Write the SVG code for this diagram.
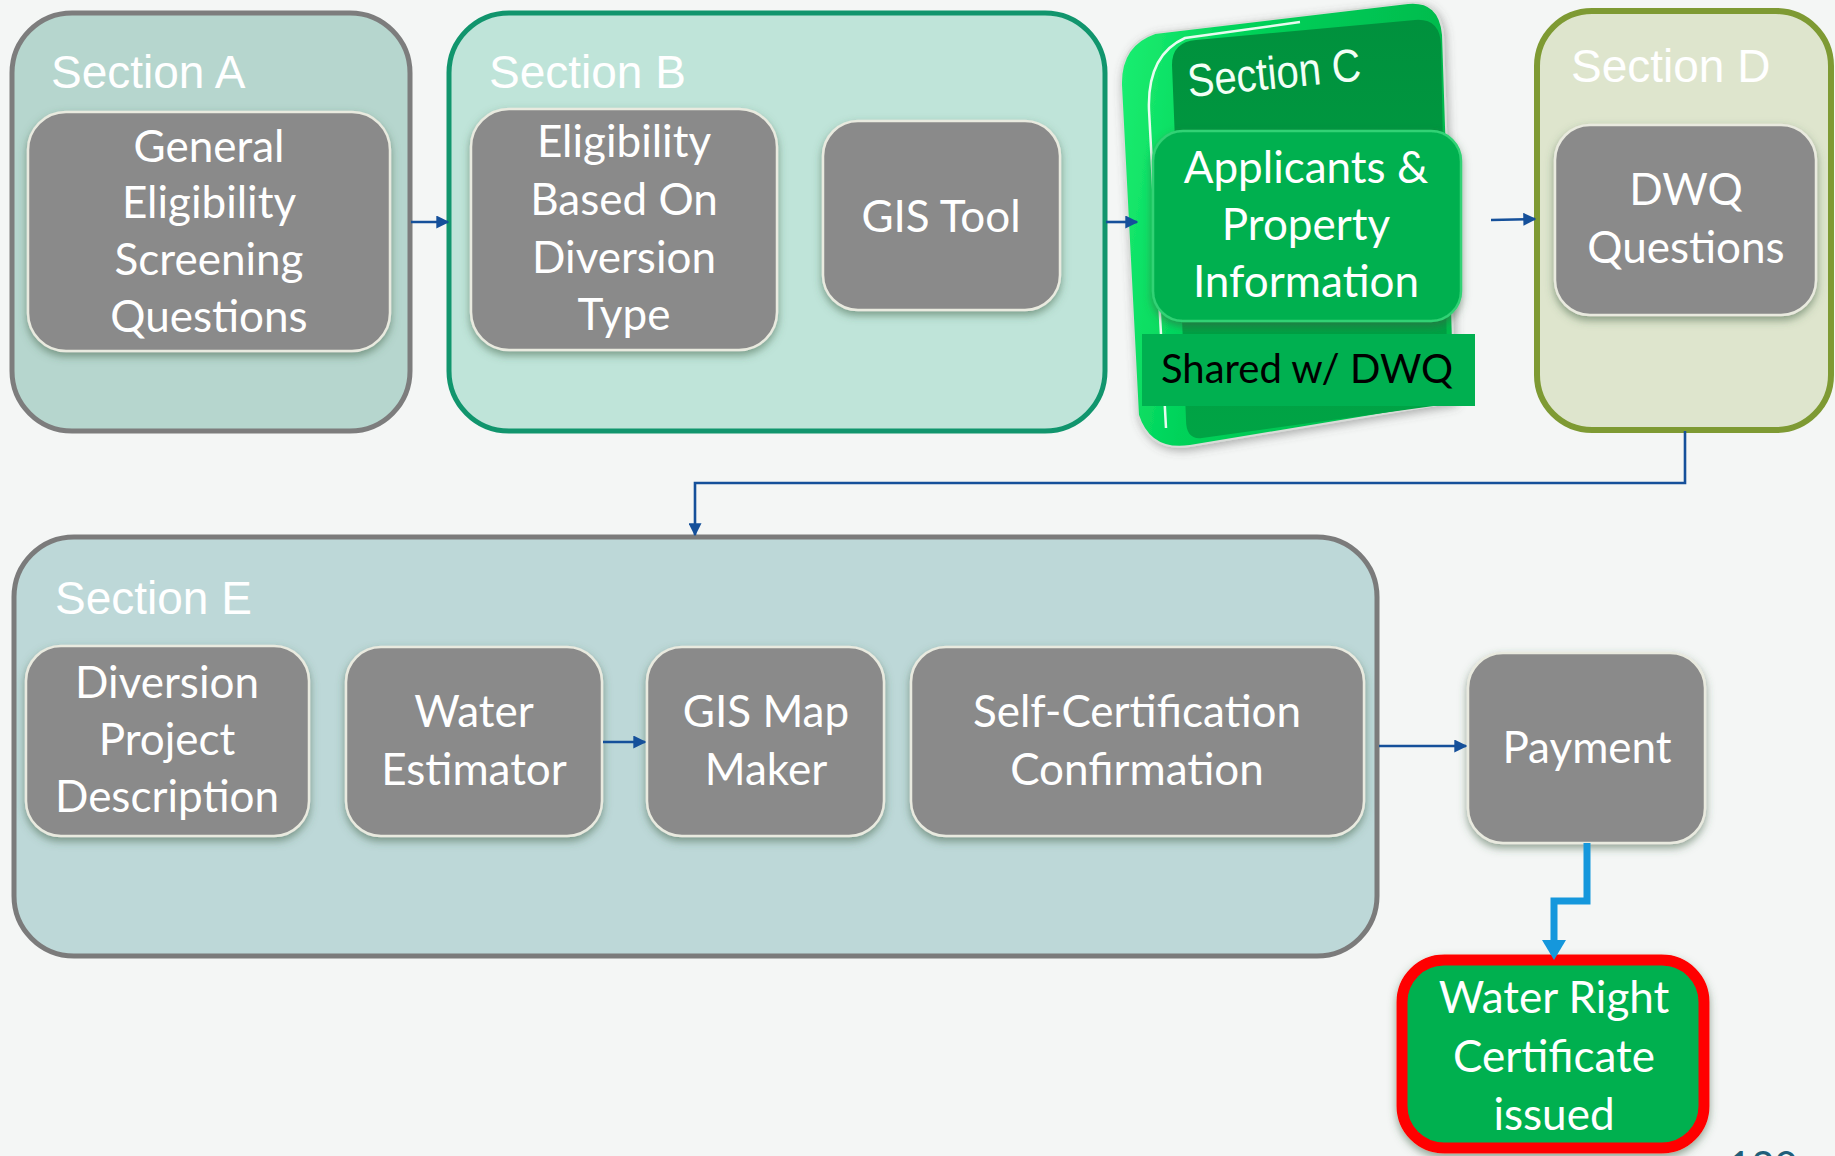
<svg xmlns="http://www.w3.org/2000/svg" width="1835" height="1156" viewBox="0 0 1835 1156">
<style>
.sec{stroke-width:5}
.title{font-family:"Liberation Sans",Arial,sans-serif;font-size:46px;fill:#ffffff}
.box{fill:#8a8a8a;stroke:#e9eadf;stroke-width:2.5}
.lbl{font-family:Lato,"Open Sans",sans-serif;font-size:44px;fill:#ffffff;text-anchor:middle}
.conn{fill:none;stroke:#15509a;stroke-width:2.6}
</style>
<defs>
<filter id="sh" x="-20%" y="-20%" width="140%" height="150%">
<feDropShadow dx="0" dy="4" stdDeviation="4" flood-color="#3e5e42" flood-opacity="0.55"/>
</filter>
<filter id="sh2" x="-20%" y="-20%" width="140%" height="140%">
<feDropShadow dx="2" dy="3" stdDeviation="5" flood-color="#555" flood-opacity="0.45"/>
</filter>
<marker id="ar" viewBox="0 0 10 10" refX="9" refY="5" markerWidth="5" markerHeight="5" orient="auto" markerUnits="strokeWidth">
<path d="M0,0 L10,5 L0,10 Z" fill="#15509a"/>
</marker>
<linearGradient id="slab" x1="0" y1="0" x2="1" y2="0.2">
<stop offset="0" stop-color="#1df072"/>
<stop offset="0.35" stop-color="#00d35a"/>
<stop offset="1" stop-color="#00b94c"/>
</linearGradient>
<linearGradient id="face" x1="0" y1="0" x2="0" y2="1">
<stop offset="0" stop-color="#00913d"/>
<stop offset="1" stop-color="#00a445"/>
</linearGradient>
</defs>
<rect x="0" y="0" width="1835" height="1156" fill="#f4f6f5"/>

<g id="sectionA">
<rect class="sec" x="12" y="13" width="398" height="418" rx="60" fill="#b6d6ce" stroke="#7d7d7d"/>
<text class="title" x="51" y="88">Section A</text>
</g>
<g id="nodeA1">
<rect class="box" x="28" y="112" width="362" height="239" rx="38" filter="url(#sh)"/>
<text class="lbl" x="209" y="162">General</text>
<text class="lbl" x="209" y="218">Eligibility</text>
<text class="lbl" x="209" y="275">Screening</text>
<text class="lbl" x="209" y="332">Questions</text>
</g>

<g id="sectionB">
<rect class="sec" x="449" y="13" width="656" height="418" rx="60" fill="#bfe4d9" stroke="#11956d"/>
<text class="title" x="489" y="88">Section B</text>
</g>
<g id="nodeB1">
<rect class="box" x="471" y="109" width="306" height="241" rx="38" filter="url(#sh)"/>
<text class="lbl" x="624" y="157">Eligibility</text>
<text class="lbl" x="624" y="215">Based On</text>
<text class="lbl" x="624" y="273">Diversion</text>
<text class="lbl" x="624" y="330">Type</text>
</g>
<g id="nodeB2">
<rect class="box" x="823" y="121" width="237" height="189" rx="35" filter="url(#sh)"/>
<text class="lbl" x="941" y="232">GIS Tool</text>
</g>

<g id="sectionC">
<path d="M1121,85 Q1120,45 1155,33 L1408,3 Q1440,0 1443,35 L1455,402 L1190,446 Q1150,452 1138,415 Z" fill="url(#slab)" stroke="#d8dcd8" stroke-width="2" filter="url(#sh2)"/>
<path d="M1172,65 Q1172,42 1196,40 L1415,20 Q1440,18 1441,45 L1448,404 L1202,438 Q1186,440 1186,420 Z" fill="url(#face)"/>
<path d="M1166,428 L1149,110 Q1147,55 1185,38 L1300,22" fill="none" stroke="#ffffff" stroke-width="2.5" stroke-opacity="0.9"/>
<text x="1189" y="97" transform="rotate(-5.5 1189 97)" font-family="Liberation Sans,Arial,sans-serif" font-size="46" fill="#f2fff6" textLength="174" lengthAdjust="spacingAndGlyphs">Section C</text>
</g>
<g id="nodeC1">
<rect x="1153" y="131" width="308" height="190" rx="30" fill="#05b050" stroke="#30d275" stroke-width="2.5" filter="url(#sh)"/>
<text class="lbl" x="1306" y="183">Applicants &amp;</text>
<text class="lbl" x="1306" y="240">Property</text>
<text class="lbl" x="1306" y="297">Information</text>
</g>
<g id="nodeShared">
<rect x="1142" y="334" width="333" height="72" fill="#00b050"/>
<text x="1161" y="383" font-family="Lato,'Open Sans',sans-serif" font-size="40" fill="#000000">Shared w/ DWQ</text>
</g>

<g id="sectionD">
<rect x="1537" y="11" width="294" height="419" rx="55" fill="#dee5cd" stroke="#7e9a33" stroke-width="6"/>
<text class="title" x="1571" y="82">Section D</text>
</g>
<g id="nodeD1">
<rect class="box" x="1555" y="125" width="261" height="190" rx="35" filter="url(#sh)"/>
<text class="lbl" x="1686" y="205">DWQ</text>
<text class="lbl" x="1686" y="263">Questions</text>
</g>

<g id="sectionE">
<rect class="sec" x="14" y="537" width="1363" height="419" rx="60" fill="#bdd8d8" stroke="#7b7b7b"/>
<text class="title" x="55" y="614">Section E</text>
</g>
<g id="nodeE1">
<rect class="box" x="26" y="646" width="283" height="190" rx="35" filter="url(#sh)"/>
<text class="lbl" x="167" y="698">Diversion</text>
<text class="lbl" x="167" y="755">Project</text>
<text class="lbl" x="167" y="812">Description</text>
</g>
<g id="nodeE2">
<rect class="box" x="346" y="647" width="256" height="189" rx="35" filter="url(#sh)"/>
<text class="lbl" x="474" y="727">Water</text>
<text class="lbl" x="474" y="785">Estimator</text>
</g>
<g id="nodeE3">
<rect class="box" x="647" y="647" width="237" height="189" rx="35" filter="url(#sh)"/>
<text class="lbl" x="766" y="727">GIS Map</text>
<text class="lbl" x="766" y="785">Maker</text>
</g>
<g id="nodeE4">
<rect class="box" x="911" y="647" width="453" height="189" rx="35" filter="url(#sh)"/>
<text class="lbl" x="1137" y="727">Self-Certification</text>
<text class="lbl" x="1137" y="785">Confirmation</text>
</g>
<g id="nodePayment">
<rect class="box" x="1468" y="653" width="237" height="190" rx="35" filter="url(#sh)"/>
<text class="lbl" x="1587" y="763">Payment</text>
</g>
<g id="nodeCertificate">
<rect x="1402" y="960" width="302" height="188" rx="42" fill="#00b050" stroke="#ff0000" stroke-width="11" filter="url(#sh)"/>
<text class="lbl" x="1554" y="1013">Water Right</text>
<text class="lbl" x="1554" y="1072">Certificate</text>
<text class="lbl" x="1554" y="1130">issued</text>
</g>
<g id="pagenum">
<text x="1728" y="1180" font-family="Lato,'Open Sans',sans-serif" font-size="40" fill="#1f5f7a">120</text>
</g>

<g id="connectors">
<path class="conn" d="M411,222 L448,222" marker-end="url(#ar)"/>
<path class="conn" d="M1106,222 L1137,222" marker-end="url(#ar)"/>
<path class="conn" d="M1491,220 L1535,219" marker-end="url(#ar)"/>
<path class="conn" d="M1685,431 L1685,483 L695,483 L695,535" marker-end="url(#ar)"/>
<path class="conn" d="M603,742 L645,742" marker-end="url(#ar)"/>
<path class="conn" d="M1379,746 L1466,746" marker-end="url(#ar)"/>
<path d="M1587,843 L1587,901 L1554,901 L1554,942" fill="none" stroke="#1597dc" stroke-width="7"/>
<path d="M1542,940 L1566,940 L1554,960 Z" fill="#1597dc"/>
</g>
</svg>
